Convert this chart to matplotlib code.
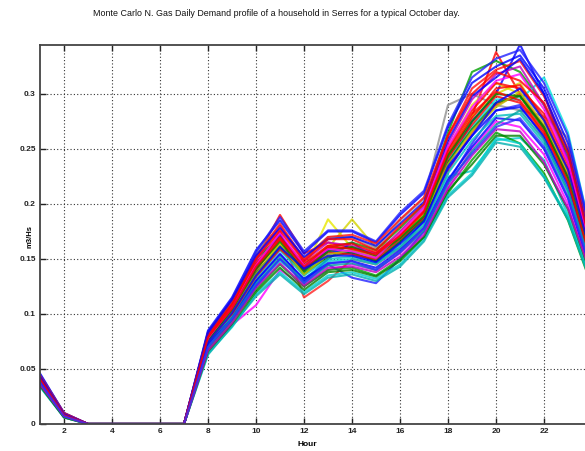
import matplotlib
matplotlib.use("Agg")
import matplotlib.pyplot as plt
import numpy as np

hours = list(range(1, 25))
Z = [0, 0, 0, 0, 0]  # hours 3..7

# Monte Carlo runs (hour1, hour2, hours3-7 zero, hours 8..24)
sim_01 = [.042, .009] + Z + [.080, .110, .150, .190, .155, .165, .160, .155, .170, .190, .240, .280, .338, .300, .270, .225, .150]
sim_02 = [.036, .007] + Z + [.070, .095, .125, .150, .130, .150, .165, .150, .160, .185, .235, .275, .300, .345, .300, .240, .155]
sim_03 = [.040, .008] + Z + [.076, .102, .140, .165, .140, .186, .160, .150, .175, .195, .250, .290, .310, .300, .260, .220, .140]
sim_04 = [.039, .008] + Z + [.074, .100, .135, .160, .135, .160, .186, .160, .170, .190, .245, .280, .300, .310, .275, .230, .150]
sim_05 = [.045, .010] + Z + [.084, .112, .155, .180, .150, .170, .170, .160, .185, .205, .290, .300, .290, .285, .280, .260, .165]
sim_06 = [.035, .006] + Z + [.066, .090, .108, .140, .125, .140, .145, .140, .155, .175, .215, .250, .275, .270, .245, .200, .135]
sim_07 = [.041, .009] + Z + [.078, .105, .145, .175, .115, .130, .150, .145, .160, .180, .230, .265, .290, .300, .270, .225, .145]
sim_08 = [.037, .007] + Z + [.072, .098, .130, .155, .130, .145, .133, .128, .150, .175, .220, .255, .285, .290, .260, .215, .140]
sim_09 = [.043, .009] + Z + [.082, .108, .150, .170, .145, .160, .165, .158, .178, .200, .265, .320, .330, .320, .290, .245, .160]
sim_10 = [.038, .008] + Z + [.071, .097, .128, .148, .132, .148, .150, .145, .160, .180, .225, .230, .258, .260, .240, .190, .130]
sim_11 = [.040, .008] + Z + [.075, .104, .138, .160, .138, .155, .158, .150, .168, .190, .240, .270, .295, .295, .315, .265, .170]
sim_12 = [.044, .009] + Z + [.080, .106, .142, .172, .142, .158, .155, .148, .165, .188, .232, .262, .285, .288, .262, .218, .148]
sim_13 = [.036, .007] + Z + [.068, .094, .122, .145, .125, .140, .142, .135, .150, .170, .210, .240, .265, .255, .228, .185, .125]
sim_14 = [.039, .008] + Z + [.076, .103, .140, .168, .140, .160, .160, .152, .170, .192, .245, .278, .305, .308, .278, .232, .152]
sim_15 = [.042, .009] + Z + [.079, .107, .148, .180, .148, .165, .162, .155, .175, .198, .255, .295, .318, .325, .290, .240, .158]
sim_16 = [.037, .007] + Z + [.073, .099, .132, .158, .135, .150, .152, .146, .162, .182, .228, .258, .280, .282, .255, .210, .138]
sim_17 = [.041, .008] + Z + [.077, .101, .137, .162, .137, .152, .156, .148, .166, .186, .238, .268, .292, .298, .268, .222, .146]
sim_18 = [.040, .009] + Z + [.075, .100, .134, .159, .140, .156, .154, .150, .168, .188, .242, .272, .298, .292, .264, .226, .150]
sim_19 = [.046, .010] + Z + [.085, .115, .158, .185, .155, .175, .175, .165, .190, .210, .270, .310, .325, .335, .305, .255, .168]
sim_20 = [.034, .006] + Z + [.064, .088, .118, .138, .120, .135, .138, .132, .145, .168, .208, .228, .260, .255, .225, .188, .128]
sim_21 = [.039, .008] + Z + [.074, .102, .136, .164, .136, .154, .158, .152, .170, .190, .236, .266, .288, .302, .272, .228, .148]
sim_22 = [.043, .009] + Z + [.081, .109, .146, .170, .146, .162, .164, .156, .172, .194, .250, .285, .310, .305, .282, .236, .154]
sim_23 = [.038, .007] + Z + [.072, .096, .130, .154, .132, .146, .148, .142, .158, .178, .222, .252, .278, .276, .250, .205, .136]
sim_24 = [.040, .008] + Z + [.076, .104, .141, .166, .139, .157, .161, .153, .169, .189, .244, .275, .300, .298, .270, .224, .147]
sim_25 = [.041, .009] + Z + [.078, .106, .144, .174, .144, .159, .157, .151, .173, .196, .252, .288, .312, .318, .286, .238, .156]
sim_26 = [.037, .007] + Z + [.070, .096, .127, .152, .128, .144, .146, .140, .156, .176, .218, .248, .272, .285, .258, .212, .140]
sim_27 = [.042, .009] + Z + [.079, .105, .143, .168, .143, .162, .159, .154, .171, .193, .248, .282, .302, .294, .266, .220, .146]
sim_28 = [.039, .008] + Z + [.074, .101, .135, .161, .141, .153, .153, .147, .164, .184, .234, .262, .292, .305, .276, .231, .151]
sim_29 = [.045, .010] + Z + [.083, .114, .156, .188, .157, .176, .176, .166, .192, .212, .272, .315, .332, .340, .310, .262, .170]
sim_30 = [.034, .006] + Z + [.063, .089, .116, .136, .118, .133, .136, .130, .143, .166, .206, .226, .256, .252, .224, .186, .126]
sim_31 = [.044, .010] + Z + [.082, .112, .152, .182, .150, .170, .172, .164, .186, .206, .262, .305, .322, .330, .298, .250, .162]
sim_32 = [.035, .006] + Z + [.066, .091, .120, .142, .122, .138, .140, .134, .148, .170, .212, .236, .262, .262, .236, .195, .132]
sim_33 = [.043, .009] + Z + [.083, .113, .153, .178, .152, .168, .170, .162, .182, .202, .258, .298, .315, .332, .300, .248, .160]
sim_34 = [.036, .007] + Z + [.067, .092, .124, .146, .126, .142, .143, .138, .152, .172, .214, .244, .268, .266, .238, .196, .134]
sim_35 = [.041, .008] + Z + [.079, .108, .150, .176, .148, .168, .168, .158, .180, .200, .262, .300, .320, .312, .292, .246, .158]
sim_36 = [.038, .007] + Z + [.070, .095, .126, .150, .128, .146, .148, .140, .156, .178, .220, .246, .270, .278, .252, .206, .138]

runs = [sim_01, sim_02, sim_03, sim_04, sim_05, sim_06, sim_07, sim_08, sim_09, sim_10,
        sim_11, sim_12, sim_13, sim_14, sim_15, sim_16, sim_17, sim_18, sim_19, sim_20,
        sim_21, sim_22, sim_23, sim_24, sim_25, sim_26, sim_27, sim_28, sim_29, sim_30,
        sim_31, sim_32, sim_33, sim_34, sim_35, sim_36]

run_colors = ['#ff0000', '#0000ff', '#e8e800', '#d4d400', '#909090', '#ff00ff', '#ff2020',
              '#2020ff', '#00a000', '#00cccc', '#00e0e0', '#0000ff', '#00a000', '#ff0000',
              '#bf00bf', '#00bfbf', '#008000', '#ff0000', '#0000ff', '#00d0d0', '#c0c000',
              '#ff0000', '#0000ff', '#008000', '#ff00ff', '#00a0a0', '#ff0000', '#0000ff',
              '#2020ff', '#00b0b0', '#ff1010', '#008000', '#0000ff', '#c000c0', '#ff0000', '#3030ff']

yticks = [0, 0.05, 0.1, 0.15, 0.2, 0.25, 0.3]
ytick_labels = ['0', '0.05', '0.1', '0.15', '0.2', '0.25', '0.3']
xticks = [2, 4, 6, 8, 10, 12, 14, 16, 18, 20, 22, 24]

font = ['Liberation Sans', 'DejaVu Sans']

fig = plt.figure(figsize=(5.85, 4.51), dpi=100)
ax = fig.add_axes([40/585, 1-424/451, 552/585, 379/451])

for r, c in zip(runs, run_colors):
    ax.plot(hours, r, color=c, lw=1.5, alpha=0.8)

ax.set_xlim(1, 24)
ax.set_ylim(0, 0.3445)
ax.set_xticks(xticks)
ax.set_yticks(yticks)
ax.set_yticklabels(ytick_labels)
ax.tick_params(direction='in', length=4, width=1, labelsize=6, top=True, right=True,
               colors='#222222', pad=3)
for lab in ax.get_xticklabels() + ax.get_yticklabels():
    lab.set_fontweight('bold')
    lab.set_family(font)
ax.grid(True, color='#333333', linestyle=(0, (1, 2)), lw=0.8)
for s in ['left', 'bottom', 'top']:
    ax.spines[s].set_color('#444444')
    ax.spines[s].set_linewidth(1.3)

fig.text(276/585, 1-14/451, 'Monte Carlo N. Gas Daily Demand profile of a household in Serres for a typical October day.',
         ha='center', va='center', fontsize=6.4, color='#111111', family=font)
fig.text(307/585, 1-445/451, 'Hour', ha='center', va='center', fontsize=6, fontweight='bold', family=font)
fig.text(30/585, 1-236/451, 'm3/Hs', ha='center', va='center', fontsize=5.5, fontweight='bold', rotation=90, family=font)

fig.savefig('out.png', dpi=100)
